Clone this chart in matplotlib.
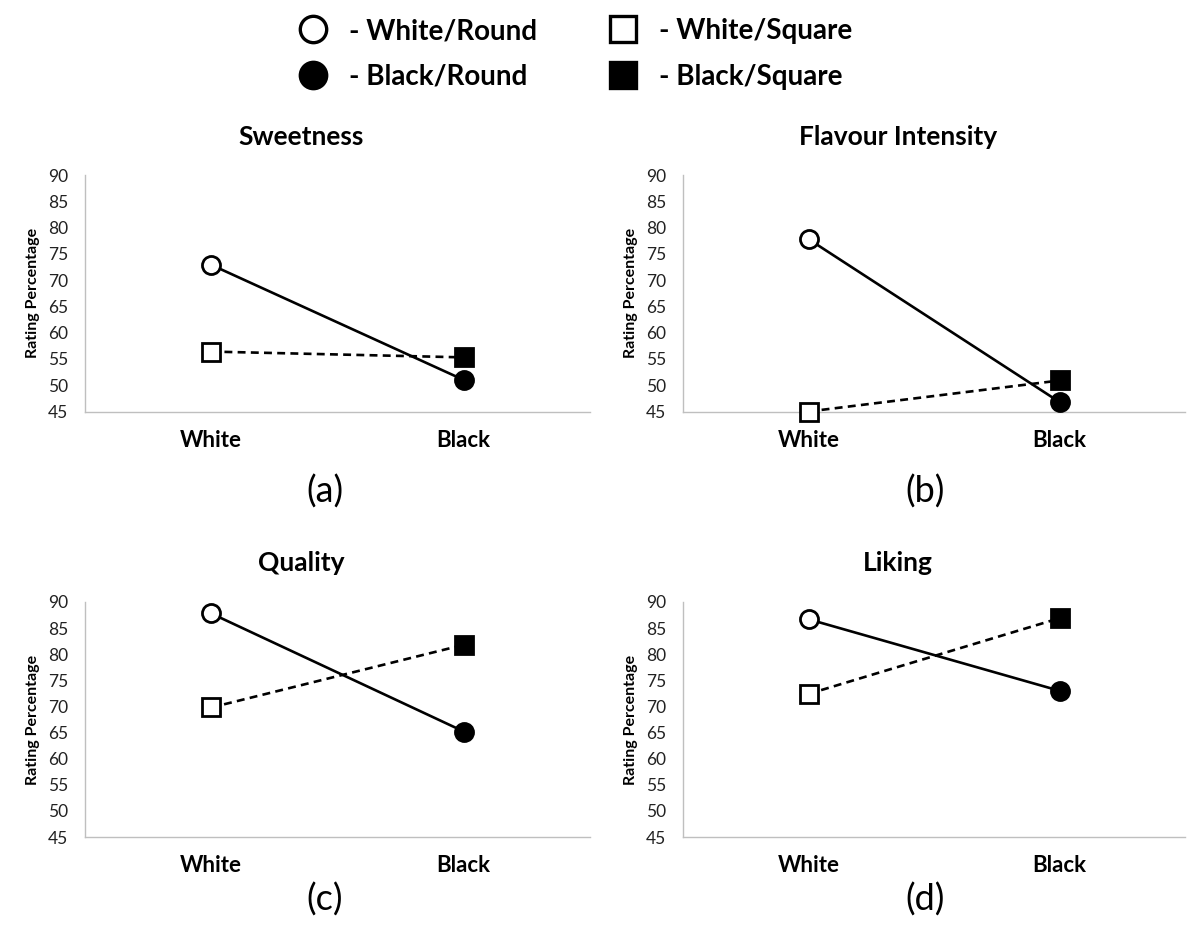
import matplotlib
matplotlib.use("Agg")
import matplotlib.pyplot as plt
from matplotlib.lines import Line2D

plt.rcParams['font.family'] = ['Lato', 'DejaVu Sans']

categories = ["White", "Black"]
titles = ["Sweetness", "Flavour Intensity", "Quality", "Liking"]
panel_labels = ["(a)", "(b)", "(c)", "(d)"]
round_vals = [[72.9, 51.0], [77.8, 46.8], [87.8, 65.2], [86.7, 73.0]]
square_vals = [[56.4, 55.3], [45.0, 50.9], [69.8, 81.8], [72.4, 86.9]]
yticks = [45, 50, 55, 60, 65, 70, 75, 80, 85, 90]
legend_labels = ["- White/Round", "- Black/Round", "- White/Square", "- Black/Square"]

W, H = 1200, 947
fig = plt.figure(figsize=(12, 9.47), dpi=100)

# axes rectangles in pixel units: left, right, top(y of 90), bottom(y of 45)
rects = [(85, 590, 175, 411.5), (683, 1185, 175, 411.5),
         (85, 590, 602, 837), (683, 1185, 602, 837)]
title_pos = [(301, 137), (898, 137), (301, 563), (898, 563)]
label_pos = [(325, 492), (925, 492), (325, 900), (925, 900)]

spine_col = "#bfbfbf"
x = list(range(len(categories)))

for i in range(4):
    l, r, t, b = rects[i]
    ax = fig.add_axes([l / W, 1 - b / H, (r - l) / W, (b - t) / H])
    ax.plot(x, round_vals[i], '-', color='black', lw=1.9, zorder=2)
    ax.plot(x, square_vals[i], color='black', lw=1.9, linestyle=(0, (3, 2)), zorder=2)
    ax.plot(x[0], round_vals[i][0], 'o', ms=13, mfc='white', mec='black', mew=2.0, zorder=4, clip_on=False)
    ax.plot(x[1], round_vals[i][1], 'o', ms=13, mfc='black', mec='black', mew=2.0, zorder=4, clip_on=False)
    ax.plot(x[0], square_vals[i][0], 's', ms=13, mfc='white', mec='black', mew=2.0, zorder=4, clip_on=False)
    ax.plot(x[1], square_vals[i][1], 's', ms=13, mfc='black', mec='black', mew=2.0, zorder=4, clip_on=False)
    ax.set_xlim(-0.5, 1.5)
    ax.set_ylim(45, 90)
    ax.set_yticks(yticks)
    ax.set_yticklabels([str(v) for v in yticks], fontsize=12.5, color='#222222')
    ax.set_xticks(x)
    ax.set_xticklabels(categories, fontsize=16, fontweight='bold')
    ax.tick_params(axis='y', length=0, pad=12)
    ax.tick_params(axis='x', length=0, pad=13)
    for s in ['top', 'right']:
        ax.spines[s].set_visible(False)
    for s in ['left', 'bottom']:
        ax.spines[s].set_color(spine_col)
        ax.spines[s].set_linewidth(1.0)
    ax.set_ylabel("Rating Percentage", fontsize=11.5, fontweight='bold', labelpad=6)
    fig.text(title_pos[i][0] / W, 1 - title_pos[i][1] / H, titles[i], fontsize=19,
             fontweight='bold', ha='center', va='center')
    fig.text(label_pos[i][0] / W, 1 - label_pos[i][1] / H, panel_labels[i], fontsize=26,
             ha='center', va='center')

handles = [
    Line2D([], [], ls='none', marker='o', ms=19, mfc='white', mec='black', mew=2.4),
    Line2D([], [], ls='none', marker='o', ms=19, mfc='black', mec='black', mew=2.4),
    Line2D([], [], ls='none', marker='s', ms=19, mfc='white', mec='black', mew=2.4),
    Line2D([], [], ls='none', marker='s', ms=19, mfc='black', mec='black', mew=2.4),
]
leg = fig.legend(handles, legend_labels, ncol=2, frameon=False,
                 loc='center', bbox_to_anchor=(574 / W, 1 - 54 / H),
                 prop={'size': 20, 'weight': 'bold'}, handletextpad=0.69,
                 columnspacing=2.5, labelspacing=0.71, handlelength=1.2)

fig.savefig("out.png", dpi=100)
